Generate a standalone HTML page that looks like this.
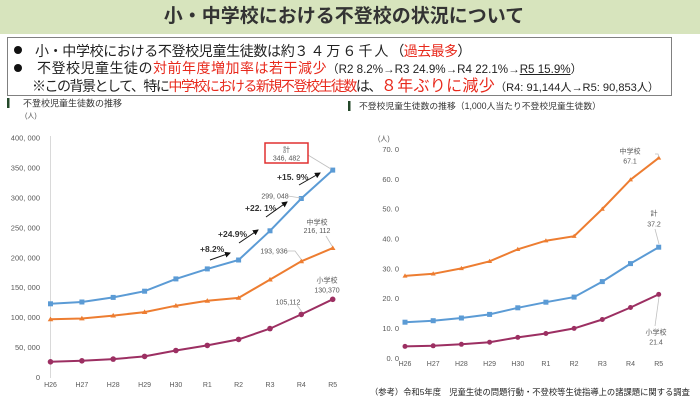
<!DOCTYPE html>
<html><head><meta charset="utf-8"><style>
html,body{margin:0;padding:0;background:#fff;}
body{width:700px;height:402px;position:relative;overflow:hidden;font-family:"Liberation Sans","Noto Sans CJK JP",sans-serif;color:#222;}
.bar{position:absolute;left:0;top:0;width:700px;height:34px;background:#d7e4bd;}
.title{position:absolute;left:0;top:5px;width:688px;text-align:center;font-size:19px;font-weight:bold;color:#333;line-height:24px;white-space:nowrap;}
.box{position:absolute;left:7px;top:37px;width:665px;height:59px;border:1px solid #808080;box-sizing:border-box;}
.ln{position:absolute;white-space:nowrap;line-height:1;font-family:"Liberation Sans","Noto Sans CJK JP",sans-serif;}
.r{color:#e8291c;}
.dot{position:absolute;width:8px;height:8px;border-radius:50%;background:#111;}
</style></head><body>
<div class="bar"></div>
<div class="title">小・中学校における不登校の状況について</div>
<div class="box"></div>
<div class="dot" style="left:14px;top:46px;"></div>
<div class="dot" style="left:14px;top:64px;"></div>
<div class="ln" style="left:35px;top:44px;font-size:14px;"><span style="letter-spacing:-0.35px">小・中学校における不登校児童生徒数は約</span><span style="letter-spacing:2px">３４万６千人</span><span style="letter-spacing:-0.6px">（<span class="r">過去最多</span>）</span></div>
<div class="ln" style="left:37px;top:61px;font-size:14px;"><span style="letter-spacing:0.5px">不登校児童生徒の<span class="r">対前年度増加率は若干減少</span></span><span style="font-size:11.6px;">（R2 8.2%→R3 24.9%→R4 22.1%→<u>R5 15.9%</u>）</span></div>
<div class="ln" style="left:32px;top:79px;font-size:14px;"><span style="letter-spacing:-1.5px">※この背景として、特に<span class="r">中学校における新規不登校生徒数</span>は、</span><span class="r" style="font-size:16px;letter-spacing:0.3px">８年ぶりに減少</span><span style="font-size:11.1px;">（R4: 91,144人→R5: 90,853人）</span></div>

<svg width="700" height="402" style="position:absolute;left:0;top:0" xmlns="http://www.w3.org/2000/svg" font-family="Liberation Sans, Noto Sans CJK JP, sans-serif">
<defs>
<marker id="ah" markerWidth="6" markerHeight="6" refX="5" refY="3" orient="auto" markerUnits="userSpaceOnUse"><path d="M0,0 L6,3 L0,6 z" fill="#111"/></marker>
</defs>
<!-- section headings -->
<rect x="7" y="98" width="2.5" height="10" fill="#24482a"/>
<text x="23" y="106.5" font-size="9" fill="#333">不登校児童生徒数の推移</text>
<text x="25" y="118" font-size="7" fill="#555">(人)</text>
<rect x="348" y="101" width="2.5" height="10" fill="#24482a"/>
<text x="359" y="109" font-size="8.8" fill="#333">不登校児童生徒数の推移（1,000人当たり不登校児童生徒数）</text>

<!-- LEFT CHART -->
<line x1="50.5" y1="136" x2="50.5" y2="378" stroke="#d9d9d9" stroke-width="1"/>
<g font-size="7.5" fill="#595959" text-anchor="end">
<text x="40" y="140.7">400, 000</text>
<text x="40" y="170.6">350, 000</text>
<text x="40" y="200.5">300, 000</text>
<text x="40" y="230.4">250, 000</text>
<text x="40" y="260.3">200, 000</text>
<text x="40" y="290.2">150, 000</text>
<text x="40" y="320.1">100, 000</text>
<text x="40" y="350.0">50, 000</text>
<text x="40" y="379.9">0</text>
</g>
<g font-size="7" fill="#595959" text-anchor="middle">
<text x="50.5" y="387">H26</text><text x="81.9" y="387">H27</text><text x="113.2" y="387">H28</text><text x="144.6" y="387">H29</text><text x="175.9" y="387">H30</text><text x="207.3" y="387">R1</text><text x="238.6" y="387">R2</text><text x="270" y="387">R3</text><text x="301.3" y="387">R4</text><text x="332.7" y="387">R5</text>
</g>
<polyline fill="none" stroke="#5b9bd5" stroke-width="2" points="50.5,303.8 81.9,302 113.2,297.4 144.6,291.2 175.9,278.9 207.3,268.9 238.6,260 270,230.8 301.3,198.5 332.7,170.1"/>
<polyline fill="none" stroke="#ed7d31" stroke-width="2" points="50.5,319.3 81.9,318.5 113.2,315.6 144.6,312.1 175.9,305.7 207.3,300.8 238.6,297.9 270,279.6 301.3,261.3 332.7,248.1"/>
<polyline fill="none" stroke="#9c2f62" stroke-width="2" points="50.5,361.8 81.9,360.8 113.2,359.1 144.6,356.4 175.9,350.5 207.3,345.4 238.6,339.4 270,328.6 301.3,314.4 332.7,299.3"/>
<g fill="#5b9bd5">
<rect x="48" y="301.3" width="5" height="5"/><rect x="79.4" y="299.5" width="5" height="5"/><rect x="110.7" y="294.9" width="5" height="5"/><rect x="142.1" y="288.7" width="5" height="5"/><rect x="173.4" y="276.4" width="5" height="5"/><rect x="204.8" y="266.4" width="5" height="5"/><rect x="236.1" y="257.5" width="5" height="5"/><rect x="267.5" y="228.3" width="5" height="5"/><rect x="298.8" y="196" width="5" height="5"/><rect x="330.2" y="167.6" width="5" height="5"/>
</g>
<g fill="#ed7d31">
<path d="M50.5,316.6 l2.8,4.6 h-5.6z"/><path d="M81.9,315.8 l2.8,4.6 h-5.6z"/><path d="M113.2,312.9 l2.8,4.6 h-5.6z"/><path d="M144.6,309.4 l2.8,4.6 h-5.6z"/><path d="M175.9,303 l2.8,4.6 h-5.6z"/><path d="M207.3,298.1 l2.8,4.6 h-5.6z"/><path d="M238.6,295.2 l2.8,4.6 h-5.6z"/><path d="M270,276.9 l2.8,4.6 h-5.6z"/><path d="M301.3,258.6 l2.8,4.6 h-5.6z"/><path d="M332.7,245.4 l2.8,4.6 h-5.6z"/>
</g>
<g fill="#9c2f62">
<circle cx="50.5" cy="361.8" r="2.8"/><circle cx="81.9" cy="360.8" r="2.8"/><circle cx="113.2" cy="359.1" r="2.8"/><circle cx="144.6" cy="356.4" r="2.8"/><circle cx="175.9" cy="350.5" r="2.8"/><circle cx="207.3" cy="345.4" r="2.8"/><circle cx="238.6" cy="339.4" r="2.8"/><circle cx="270" cy="328.6" r="2.8"/><circle cx="301.3" cy="314.4" r="2.8"/><circle cx="332.7" cy="299.3" r="2.8"/>
</g>
<!-- left annotations -->
<line x1="308" y1="155" x2="331" y2="169" stroke="#bfbfbf" stroke-width="0.8"/>
<rect x="265" y="143" width="43" height="20" fill="#fff" stroke="#e03030" stroke-width="1.5"/>
<g font-size="7" fill="#555" text-anchor="middle">
<text x="286.5" y="152">計</text>
<text x="286.5" y="160.5">346, 482</text>
<text x="275" y="198.5">299, 048</text>
<text x="317" y="224.5">中学校</text>
<text x="317" y="233">216, 112</text>
<text x="274" y="253.5">193, 936</text>
<text x="327" y="282.5">小学校</text>
<text x="327" y="292.5">130,370</text>
<text x="288" y="304.5">105,112</text>
</g>
<g fill="none" stroke="#bfbfbf" stroke-width="0.8">
<line x1="288" y1="196" x2="301" y2="198"/>
<line x1="326" y1="236" x2="332" y2="246"/>
<polyline points="287,251 295,251 301,259"/>
<polyline points="297,305 302,312"/>
</g>
<g font-size="8.5" fill="#333" font-weight="bold">
<text x="277" y="180">+15. 9%</text>
<text x="245" y="211">+22. 1%</text>
<text x="218" y="237">+24.9%</text>
<text x="200" y="252">+8.2%</text>
</g>
<g stroke="#111" stroke-width="1" marker-end="url(#ah)">
<line x1="299" y1="185" x2="320" y2="173"/>
<line x1="266" y1="217" x2="287" y2="202"/>
<line x1="239" y1="243" x2="258" y2="230"/>
<line x1="210" y1="260" x2="230" y2="253"/>
</g>

<!-- RIGHT CHART -->
<text x="378" y="141" font-size="7" fill="#555">(人)</text>
<g font-size="7.5" fill="#595959" text-anchor="end">
<text x="399" y="151.9">70. 0</text>
<text x="399" y="181.8">60. 0</text>
<text x="399" y="211.6">50. 0</text>
<text x="399" y="241.5">40. 0</text>
<text x="399" y="271.3">30. 0</text>
<text x="399" y="301.2">20. 0</text>
<text x="399" y="331">10. 0</text>
<text x="399" y="360.9">0. 0</text>
</g>
<g font-size="7" fill="#595959" text-anchor="middle">
<text x="405" y="366">H26</text><text x="433.2" y="366">H27</text><text x="461.4" y="366">H28</text><text x="489.6" y="366">H29</text><text x="517.8" y="366">H30</text><text x="545.9" y="366">R1</text><text x="574.1" y="366">R2</text><text x="602.3" y="366">R3</text><text x="630.5" y="366">R4</text><text x="658.7" y="366">R5</text>
</g>
<polyline fill="none" stroke="#ed7d31" stroke-width="2" points="405,275.9 433.2,273.8 461.4,268.4 489.6,261.3 517.8,249.3 545.9,240.7 574.1,236.2 602.3,209 630.5,179.7 658.7,157.9"/>
<polyline fill="none" stroke="#5b9bd5" stroke-width="2" points="405,322.2 433.2,320.7 461.4,318 489.6,314.4 517.8,307.8 545.9,302.2 574.1,297.1 602.3,281.6 630.5,263.6 658.7,247.2"/>
<polyline fill="none" stroke="#9c2f62" stroke-width="2" points="405,346.4 433.2,345.8 461.4,344.3 489.6,342.2 517.8,337.4 545.9,333.5 574.1,328.4 602.3,319.5 630.5,307.5 658.7,294.4"/>
<g fill="#ed7d31">
<path d="M405,273.4 l2.5,4.2 h-5z"/><path d="M433.2,271.3 l2.5,4.2 h-5z"/><path d="M461.4,265.9 l2.5,4.2 h-5z"/><path d="M489.6,258.8 l2.5,4.2 h-5z"/><path d="M517.8,246.8 l2.5,4.2 h-5z"/><path d="M545.9,238.2 l2.5,4.2 h-5z"/><path d="M574.1,233.7 l2.5,4.2 h-5z"/><path d="M602.3,206.5 l2.5,4.2 h-5z"/><path d="M630.5,177.2 l2.5,4.2 h-5z"/><path d="M658.7,155.4 l2.5,4.2 h-5z"/>
</g>
<g fill="#5b9bd5">
<rect x="402.5" y="319.7" width="5" height="5"/><rect x="430.7" y="318.2" width="5" height="5"/><rect x="458.9" y="315.5" width="5" height="5"/><rect x="487.1" y="311.9" width="5" height="5"/><rect x="515.3" y="305.3" width="5" height="5"/><rect x="543.4" y="299.7" width="5" height="5"/><rect x="571.6" y="294.6" width="5" height="5"/><rect x="599.8" y="279.1" width="5" height="5"/><rect x="628" y="261.1" width="5" height="5"/><rect x="656.2" y="244.7" width="5" height="5"/>
</g>
<g fill="#9c2f62">
<circle cx="405" cy="346.4" r="2.5"/><circle cx="433.2" cy="345.8" r="2.5"/><circle cx="461.4" cy="344.3" r="2.5"/><circle cx="489.6" cy="342.2" r="2.5"/><circle cx="517.8" cy="337.4" r="2.5"/><circle cx="545.9" cy="333.5" r="2.5"/><circle cx="574.1" cy="328.4" r="2.5"/><circle cx="602.3" cy="319.5" r="2.5"/><circle cx="630.5" cy="307.5" r="2.5"/><circle cx="658.7" cy="294.4" r="2.5"/>
</g>
<g fill="none" stroke="#bfbfbf" stroke-width="0.8">
<polyline points="655,154 658,154 659,157"/>
<line x1="655" y1="229" x2="659" y2="244"/>
<line x1="655" y1="326" x2="659" y2="297"/>
</g>
<g font-size="7" fill="#555" text-anchor="middle">
<text x="630" y="153.5">中学校</text>
<text x="630" y="163.5">67.1</text>
<text x="654" y="215.5">計</text>
<text x="654" y="226.5">37.2</text>
<text x="656" y="334.5">小学校</text>
<text x="656" y="344.5">21.4</text>
</g>
<text x="370" y="395" font-size="8.3" fill="#222">（参考）令和5年度　児童生徒の問題行動・不登校等生徒指導上の諸課題に関する調査</text>
</svg>
</body></html>
